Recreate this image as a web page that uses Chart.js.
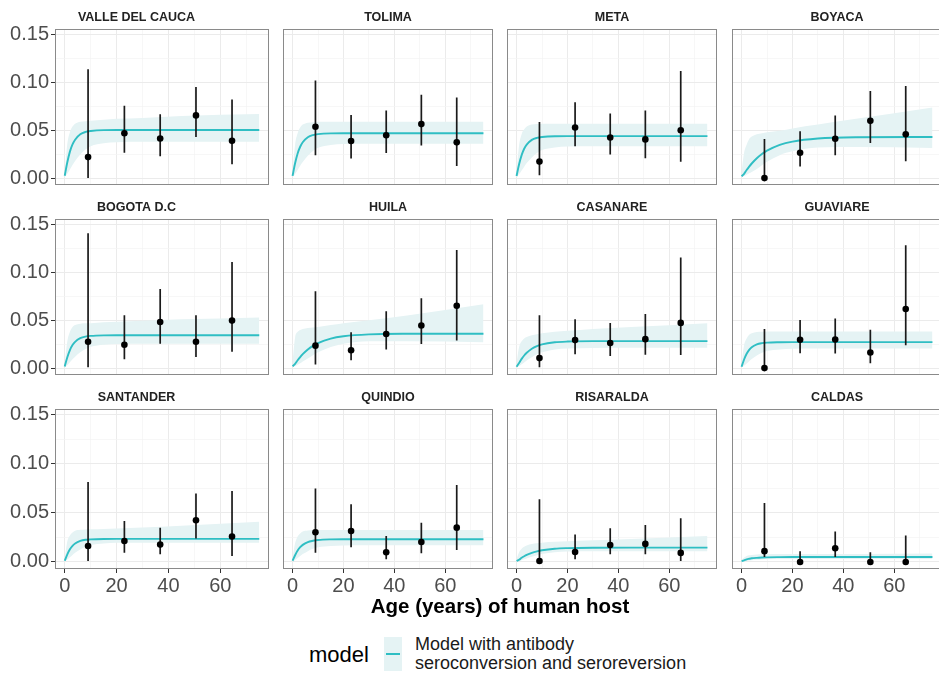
<!DOCTYPE html>
<html>
<head>
<meta charset="utf-8">
<script src="https://cdn.jsdelivr.net/npm/chart.js@4.4.1/dist/chart.umd.min.js"></script>
<style>
    html, body {
        margin: 0;
        padding: 0;
        background: #fff;
        width: 939px;
        height: 673px;
        overflow: hidden;
        position: relative;
        font-family: "Liberation Sans", Arial, sans-serif;
    }
    canvas { position: absolute; }
    .x-title {
        position: absolute;
        left: 300px;
        width: 400px;
        top: 595px;
        text-align: center;
        font-size: 20.5px;
        line-height: 21px;
        font-weight: bold;
        color: #000;
    }
    .legend-name {
        position: absolute;
        left: 309px;
        top: 644px;
        font-size: 22px;
        line-height: 22px;
        color: #000;
    }
    .legend-key {
        position: absolute;
        left: 384px;
        top: 637px;
        width: 17.5px;
        height: 34px;
        background: #e5f3f4;
    }
    .legend-key div {
        position: absolute;
        left: 1.5px;
        right: 1.5px;
        top: 16px;
        height: 2px;
        background: #2fbec3;
    }
    .legend-text {
        position: absolute;
        left: 415px;
        top: 635px;
        font-size: 18px;
        line-height: 19px;
        color: #1a1a1a;
    }
</style>
</head>
<body>
<div id="panels"></div>
<div class="x-title">Age (years) of human host</div>
<div class="legend-name">model</div>
<div class="legend-key"><div></div></div>
<div class="legend-text">Model with antibody<br>seroconversion and seroreversion</div>

<script>
// Facet names, in reading order
const regions = ['VALLE DEL CAUCA', 'TOLIMA', 'META', 'BOYACA',
                 'BOGOTA D.C', 'HUILA', 'CASANARE', 'GUAVIARE',
                 'SANTANDER', 'QUINDIO', 'RISARALDA', 'CALDAS'];

// Observed seroprevalence per age group (one row per region)
const obsAge = [9, 23, 36.8, 50.6, 64.5];
const obsPrev = [
    [0.022, 0.047, 0.0415, 0.0656, 0.039],
    [0.0537, 0.0388, 0.0449, 0.0565, 0.0374],
    [0.0173, 0.053, 0.0425, 0.0405, 0.050],
    [0.0, 0.0265, 0.0412, 0.0599, 0.0459],
    [0.0276, 0.0245, 0.0483, 0.0276, 0.0497],
    [0.0235, 0.0187, 0.0357, 0.0446, 0.0653],
    [0.0105, 0.0293, 0.0262, 0.0303, 0.0473],
    [0.0, 0.0296, 0.0299, 0.0163, 0.0619],
    [0.0163, 0.0214, 0.0177, 0.0425, 0.0259],
    [0.0303, 0.0316, 0.0099, 0.0204, 0.035],
    [0.001, 0.0102, 0.0173, 0.0184, 0.0092],
    [0.011, 0.0, 0.014, 0.0, 0.0]
];
const obsLow = [
    [0.0, 0.0265, 0.023, 0.0429, 0.0146],
    [0.0238, 0.0204, 0.0262, 0.034, 0.0126],
    [0.003, 0.0333, 0.0248, 0.0207, 0.017],
    [0.0, 0.0122, 0.0238, 0.0367, 0.0177],
    [0.001, 0.0092, 0.0255, 0.0116, 0.017],
    [0.0037, 0.0082, 0.0194, 0.0252, 0.0289],
    [0.001, 0.0146, 0.0126, 0.0139, 0.0136],
    [0.0, 0.0156, 0.0153, 0.0051, 0.0238],
    [0.001, 0.0095, 0.0078, 0.0238, 0.0061],
    [0.0095, 0.015, 0.0027, 0.0088, 0.0122],
    [0.0, 0.0027, 0.0078, 0.0078, 0.001],
    [0.005, 0.0, 0.005, 0.0, 0.0]
];
const obsHigh = [
    [0.114, 0.0758, 0.0667, 0.0952, 0.0823],
    [0.102, 0.066, 0.0707, 0.0871, 0.0844],
    [0.0588, 0.0793, 0.0677, 0.0707, 0.112],
    [0.0408, 0.049, 0.0656, 0.0912, 0.0963],
    [0.141, 0.0554, 0.0827, 0.0554, 0.111],
    [0.0803, 0.0374, 0.0595, 0.0731, 0.1235],
    [0.0554, 0.051, 0.0473, 0.0565, 0.1156],
    [0.0408, 0.0503, 0.052, 0.0401, 0.1286],
    [0.0816, 0.0418, 0.035, 0.0697, 0.0724],
    [0.0748, 0.0588, 0.0265, 0.0401, 0.0786],
    [0.0639, 0.0279, 0.0344, 0.0378, 0.0446],
    [0.06, 0.011, 0.031, 0.010, 0.027]
];

// Fitted model curve and its band, read at these ages
const curveAge = [0, 1, 2, 3, 4, 6, 8, 10, 15, 20, 30, 45, 75];
const fitPrev = [
    [0.0025, 0.0166, 0.0277, 0.0352, 0.0402, 0.0458, 0.0483, 0.0493, 0.0502, 0.0503, 0.0503, 0.0503, 0.0503],
    [0.0023, 0.0155, 0.0258, 0.0328, 0.0375, 0.0427, 0.045, 0.046, 0.0468, 0.0469, 0.0469, 0.0469, 0.0469],
    [0.0022, 0.0145, 0.0241, 0.0307, 0.0351, 0.040, 0.0421, 0.043, 0.0438, 0.0439, 0.0439, 0.0439, 0.0439],
    [0.002, 0.0045, 0.0085, 0.0121, 0.0153, 0.0208, 0.0252, 0.0287, 0.0348, 0.0382, 0.0414, 0.0427, 0.043],
    [0.0017, 0.0114, 0.0189, 0.0241, 0.0275, 0.0313, 0.033, 0.0337, 0.0343, 0.0344, 0.0344, 0.0344, 0.0344],
    [0.002, 0.0044, 0.0082, 0.0116, 0.0146, 0.0195, 0.0233, 0.0262, 0.0309, 0.0333, 0.0353, 0.0359, 0.036],
    [0.0015, 0.0053, 0.0097, 0.0132, 0.016, 0.0202, 0.023, 0.0248, 0.027, 0.0278, 0.0282, 0.0282, 0.0282],
    [0.0014, 0.009, 0.015, 0.019, 0.0218, 0.0248, 0.0261, 0.0267, 0.0271, 0.0272, 0.0272, 0.0272, 0.0272],
    [0.0012, 0.0078, 0.0129, 0.0165, 0.0188, 0.0214, 0.0226, 0.023, 0.0234, 0.0235, 0.0235, 0.0235, 0.0235],
    [0.0012, 0.0068, 0.0116, 0.015, 0.0174, 0.0203, 0.0216, 0.0224, 0.023, 0.0231, 0.0231, 0.0231, 0.0231],
    [0.001, 0.0023, 0.0042, 0.0058, 0.0072, 0.0093, 0.0108, 0.0119, 0.0135, 0.0141, 0.0145, 0.0146, 0.0146],
    [0.0008, 0.0016, 0.0026, 0.0032, 0.0037, 0.0042, 0.0045, 0.0047, 0.0049, 0.005, 0.005, 0.005, 0.005]
];
const fitHigh = [
    [0.006, 0.036, 0.048, 0.054, 0.057, 0.059, 0.0595, 0.060, 0.061, 0.062, 0.063, 0.065, 0.067],
    [0.006, 0.035, 0.047, 0.053, 0.056, 0.058, 0.0585, 0.059, 0.059, 0.059, 0.059, 0.059, 0.059],
    [0.006, 0.034, 0.046, 0.051, 0.054, 0.056, 0.0565, 0.057, 0.057, 0.057, 0.057, 0.057, 0.057],
    [0.006, 0.0265, 0.035, 0.041, 0.0435, 0.046, 0.047, 0.048, 0.0495, 0.052, 0.056, 0.062, 0.074],
    [0.005, 0.028, 0.038, 0.043, 0.045, 0.0465, 0.047, 0.047, 0.048, 0.0485, 0.0495, 0.051, 0.053],
    [0.006, 0.032, 0.038, 0.040, 0.041, 0.042, 0.0425, 0.043, 0.045, 0.047, 0.050, 0.055, 0.0667],
    [0.005, 0.022, 0.028, 0.031, 0.0325, 0.0345, 0.0355, 0.0365, 0.038, 0.039, 0.041, 0.043, 0.047],
    [0.005, 0.024, 0.031, 0.035, 0.0365, 0.0378, 0.038, 0.0383, 0.0384, 0.0384, 0.0384, 0.0384, 0.0384],
    [0.004, 0.021, 0.027, 0.030, 0.0318, 0.0328, 0.0332, 0.0333, 0.0336, 0.034, 0.0352, 0.037, 0.041],
    [0.004, 0.019, 0.026, 0.029, 0.031, 0.032, 0.0325, 0.0327, 0.0327, 0.0327, 0.0327, 0.0327, 0.0327],
    [0.003, 0.010, 0.0135, 0.0155, 0.0168, 0.0183, 0.019, 0.0197, 0.0205, 0.021, 0.022, 0.0235, 0.0265],
    [0.002, 0.0045, 0.006, 0.0068, 0.0072, 0.0076, 0.0078, 0.0079, 0.008, 0.008, 0.008, 0.0082, 0.0085]
];
const fitLow = [
    [0.001, 0.0046, 0.009, 0.0137, 0.0179, 0.0247, 0.030, 0.0334, 0.0365, 0.0376, 0.038, 0.038, 0.038],
    [0.001, 0.0043, 0.0086, 0.013, 0.0169, 0.0234, 0.0284, 0.0317, 0.0346, 0.0356, 0.036, 0.036, 0.036],
    [0.001, 0.004, 0.008, 0.012, 0.0157, 0.0216, 0.0263, 0.0293, 0.032, 0.033, 0.0333, 0.0333, 0.0333],
    [0.001, 0.002, 0.0035, 0.005, 0.0065, 0.0095, 0.0135, 0.017, 0.024, 0.028, 0.032, 0.0325, 0.0316],
    [0.0008, 0.003, 0.0061, 0.0092, 0.012, 0.0166, 0.0201, 0.0224, 0.0245, 0.0252, 0.0255, 0.0255, 0.0255],
    [0.001, 0.002, 0.0035, 0.005, 0.007, 0.010, 0.0135, 0.0165, 0.022, 0.0255, 0.028, 0.028, 0.027],
    [0.001, 0.002, 0.004, 0.006, 0.008, 0.0115, 0.0145, 0.0165, 0.0195, 0.0205, 0.021, 0.0214, 0.0214],
    [0.0007, 0.0024, 0.0049, 0.0073, 0.0096, 0.0133, 0.0161, 0.018, 0.0196, 0.0202, 0.0204, 0.0204, 0.0204],
    [0.0006, 0.0024, 0.0047, 0.0071, 0.0093, 0.0128, 0.0156, 0.0173, 0.0189, 0.0195, 0.0197, 0.0197, 0.0197],
    [0.0005, 0.002, 0.004, 0.0061, 0.008, 0.011, 0.0134, 0.015, 0.0163, 0.0168, 0.017, 0.017, 0.017],
    [0.0005, 0.001, 0.0018, 0.0027, 0.0036, 0.0053, 0.0068, 0.0081, 0.0098, 0.0106, 0.011, 0.011, 0.011],
    [0.0003, 0.0006, 0.001, 0.0014, 0.0018, 0.0023, 0.0026, 0.0028, 0.003, 0.003, 0.003, 0.003, 0.003]
];

// Axis ticks (minor ones only get a lighter grid line)
const xMajorTicks = [0, 20, 40, 60];
const xMinorTicks = [10, 30, 50, 70];
const yMajorTicks = [0, 0.05, 0.10, 0.15];
const yMinorTicks = [0.025, 0.075, 0.125];

// Panel geometry (pixels)
const panelW = 218, panelH = 160, stripH = 22;
const yAxisW = 55, xAxisH = 30;
const colLeft = [55, 279, 503, 728];
const rowTop = [29, 219, 409];

const FONT = '"Liberation Sans", Arial, sans-serif';
const LINE_COLOR = '#2fbec3';
const BAND_COLOR = '#e5f3f4';

function isMajor(list, v) {
    return list.some(m => Math.abs(m - v) < 1e-9);
}

// Draw the grey panel border over the data, like ggplot
const panelBorder = {
    id: 'panelBorder',
    afterDraw(chart) {
        const { ctx, chartArea: a } = chart;
        ctx.save();
        ctx.strokeStyle = '#8a8a8a';
        ctx.lineWidth = 1;
        ctx.strokeRect(a.left + 0.5, a.top + 0.5, a.width - 1, a.height - 1);
        ctx.restore();
    }
};

function buildPanel(i) {
    const row = Math.floor(i / 4);
    const col = i % 4;
    const showY = col === 0;
    const showX = row === 2;

    const canvas = document.createElement('canvas');
    const left = colLeft[col] - (showY ? yAxisW : 0);
    const width = panelW + (showY ? yAxisW : 0);
    const height = stripH + panelH + (showX ? xAxisH : 0);
    canvas.width = width;
    canvas.height = height;
    canvas.style.left = left + 'px';
    canvas.style.top = (rowTop[row] - stripH) + 'px';
    document.getElementById('panels').appendChild(canvas);

    const points = obsAge.map((a, k) => ({ x: a, y: obsPrev[i][k] }));

    // error bars as separate vertical segments, broken by null points
    const bars = [];
    obsAge.forEach((a, k) => {
        bars.push({ x: a, y: obsLow[i][k] });
        bars.push({ x: a, y: obsHigh[i][k] });
        bars.push({ x: a, y: null });
    });

    const fit = curveAge.map((a, k) => ({ x: a, y: fitPrev[i][k] }));
    const upper = curveAge.map((a, k) => ({ x: a, y: fitHigh[i][k] }));
    const lower = curveAge.map((a, k) => ({ x: a, y: fitLow[i][k] }));

    new Chart(canvas, {
        type: 'line',
        data: {
            datasets: [
                {
                    data: points,
                    showLine: false,
                    pointRadius: 3.3,
                    pointBackgroundColor: '#000',
                    pointBorderWidth: 0,
                    order: 0
                },
                {
                    data: bars,
                    borderColor: '#1a1a1a',
                    borderWidth: 1.7,
                    pointRadius: 0,
                    spanGaps: false,
                    order: 1
                },
                {
                    data: fit,
                    borderColor: LINE_COLOR,
                    borderWidth: 1.9,
                    pointRadius: 0,
                    cubicInterpolationMode: 'monotone',
                    order: 2
                },
                {
                    data: upper,
                    borderWidth: 0,
                    borderColor: 'rgba(0,0,0,0)',
                    pointRadius: 0,
                    cubicInterpolationMode: 'monotone',
                    fill: '+1',
                    backgroundColor: BAND_COLOR,
                    order: 3
                },
                {
                    data: lower,
                    borderWidth: 0,
                    borderColor: 'rgba(0,0,0,0)',
                    pointRadius: 0,
                    cubicInterpolationMode: 'monotone',
                    fill: false,
                    order: 4
                }
            ]
        },
        options: {
            responsive: false,
            animation: false,
            events: [],
            layout: { padding: 0 },
            plugins: {
                legend: { display: false },
                tooltip: { enabled: false },
                title: {
                    display: true,
                    text: regions[i],
                    color: '#222',
                    font: { family: FONT, size: 12.5, weight: 'bold', lineHeight: 1 },
                    padding: { top: 4.5, bottom: 5 }
                }
            },
            scales: {
                x: {
                    type: 'linear',
                    min: -3.75,
                    max: 78.75,
                    afterBuildTicks: scale => {
                        scale.ticks = xMajorTicks.concat(xMinorTicks)
                            .sort((a, b) => a - b)
                            .map(v => ({ value: v }));
                    },
                    afterFit: scale => {
                        scale.height = showX ? xAxisH : 0;
                        scale.paddingLeft = 0;
                        scale.paddingRight = 0;
                    },
                    border: { display: false },
                    grid: {
                        color: ctx => isMajor(xMajorTicks, ctx.tick.value) ? '#ebebeb' : '#f4f4f4',
                        lineWidth: ctx => isMajor(xMajorTicks, ctx.tick.value) ? 1 : 0.7,
                        drawTicks: showX,
                        tickLength: 4,
                        tickColor: ctx => isMajor(xMajorTicks, ctx.tick.value) ? '#333' : 'rgba(0,0,0,0)',
                        tickWidth: 1
                    },
                    ticks: {
                        display: showX,
                        autoSkip: false,
                        maxRotation: 0,
                        padding: 1,
                        color: '#4d4d4d',
                        font: { family: FONT, size: 20 },
                        callback: v => isMajor(xMajorTicks, v) ? String(v) : ''
                    }
                },
                y: {
                    type: 'linear',
                    min: -0.0072,
                    max: 0.156,
                    afterBuildTicks: scale => {
                        scale.ticks = yMajorTicks.concat(yMinorTicks)
                            .sort((a, b) => a - b)
                            .map(v => ({ value: v }));
                    },
                    afterFit: scale => {
                        scale.width = showY ? yAxisW : 0;
                        scale.paddingTop = 0;
                        scale.paddingBottom = 0;
                    },
                    border: { display: false },
                    grid: {
                        color: ctx => isMajor(yMajorTicks, ctx.tick.value) ? '#ebebeb' : '#f4f4f4',
                        lineWidth: ctx => isMajor(yMajorTicks, ctx.tick.value) ? 1 : 0.7,
                        drawTicks: showY,
                        tickLength: 4,
                        tickColor: ctx => isMajor(yMajorTicks, ctx.tick.value) ? '#333' : 'rgba(0,0,0,0)',
                        tickWidth: 1
                    },
                    ticks: {
                        display: showY,
                        autoSkip: false,
                        padding: 2,
                        color: '#4d4d4d',
                        font: { family: FONT, size: 20 },
                        callback: v => isMajor(yMajorTicks, v) ? v.toFixed(2) : ''
                    }
                }
            }
        },
        plugins: [panelBorder]
    });
}

regions.forEach((name, i) => buildPanel(i));
</script>
</body>
</html>
